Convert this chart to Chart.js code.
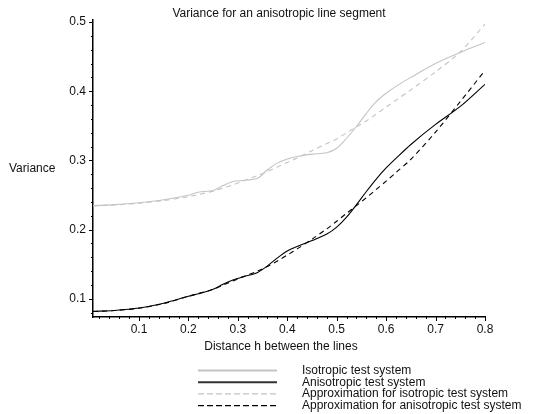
<!DOCTYPE html>
<html>
<head>
<meta charset="utf-8">
<script src="https://cdn.jsdelivr.net/npm/chart.js@4.4.0/dist/chart.umd.min.js"></script>
<style>
  html, body { margin: 0; padding: 0; background: #fff; }
</style>
</head>
<body>
<canvas id="chart" width="533" height="414"></canvas>
<script>
'use strict';

/* data */
const distances = [0.007, 0.05, 0.1, 0.15, 0.2, 0.22, 0.25, 0.27, 0.29, 0.31, 0.34, 0.36, 0.38, 0.4,
                   0.42, 0.45, 0.48, 0.5, 0.52, 0.54, 0.56, 0.58, 0.6, 0.62, 0.65, 0.7, 0.75, 0.8];

const isoTest = [0.2345, 0.236, 0.2388, 0.243, 0.2495, 0.254, 0.2565, 0.2635, 0.2695, 0.271, 0.274, 0.2865, 0.296, 0.302,
                 0.3055, 0.309, 0.311, 0.3175, 0.332, 0.349, 0.368, 0.385, 0.397, 0.407, 0.42, 0.44, 0.456, 0.4705];

const anisoTest = [0.0816, 0.083, 0.0865, 0.0935, 0.1035, 0.107, 0.1135, 0.121, 0.127, 0.1315, 0.138, 0.1475, 0.159, 0.169,
                   0.1755, 0.184, 0.1935, 0.2035, 0.218, 0.236, 0.255, 0.273, 0.289, 0.303, 0.323, 0.352, 0.378, 0.41];

const isoApprox = [0.234, 0.2355, 0.238, 0.242, 0.2475, 0.2505, 0.2555, 0.26, 0.2645, 0.27, 0.278, 0.284, 0.2905, 0.297,
                   0.3035, 0.314, 0.3245, 0.331, 0.34, 0.3485, 0.357, 0.367, 0.377, 0.387, 0.402, 0.428, 0.457, 0.497];

const anisoApprox = [0.0815, 0.0828, 0.0862, 0.093, 0.1035, 0.1075, 0.1135, 0.1195, 0.1255, 0.1315, 0.14, 0.1465, 0.1545, 0.163,
                     0.172, 0.186, 0.201, 0.212, 0.2235, 0.2345, 0.246, 0.258, 0.27, 0.2825, 0.3015, 0.341, 0.385, 0.43];

const xTickValues = [0.1, 0.2, 0.3, 0.4, 0.5, 0.6, 0.7, 0.8];
const yTickValues = [0.1, 0.2, 0.3, 0.4, 0.5];

const seriesLabels = [
    'Isotropic test system',
    'Anisotropic test system',
    'Approximation for isotropic test system',
    'Approximation for anisotropic test system',
];

/* styles */
const GREY = '#c4c4c4';
const BLACK = '#000';
const FAMILY = '"Liberation Sans", Arial, sans-serif';
const FONT = '12px ' + FAMILY;

function toPoints(values) {
    return distances.map((h, i) => ({ x: h, y: values[i] }));
}

function makeDataset(label, values, color, dash) {
    return {
        label,
        data: toPoints(values),
        borderColor: color,
        borderWidth: 1.1,
        borderDash: dash,
        pointRadius: 0,
        fill: false,
        tension: 0.3,
    };
}

/* axes ticks, titles and legend drawn by hand */
const decor = {
    id: 'decor',
    afterDraw(chart) {
        const { ctx, scales: { x, y }, chartArea: a } = chart;
        ctx.save();
        ctx.strokeStyle = BLACK;
        ctx.lineWidth = 1;

        // minor + major ticks
        for (let i = 1; i <= 40; i++) {
            const v = i * 0.02;
            const px = Math.round(x.getPixelForValue(v)) + 0.5;
            const len = i % 5 === 0 ? 4 : 2;
            ctx.beginPath(); ctx.moveTo(px, a.bottom); ctx.lineTo(px, a.bottom + len); ctx.stroke();
        }
        for (let i = 4; i <= 25; i++) {
            const v = i * 0.02;
            const py = Math.round(y.getPixelForValue(v)) + 0.5;
            const len = i % 5 === 0 ? 4 : 2;
            ctx.beginPath(); ctx.moveTo(a.left, py); ctx.lineTo(a.left - len, py); ctx.stroke();
        }

        ctx.fillStyle = '#111';
        ctx.font = FONT;
        ctx.textBaseline = 'middle';
        ctx.textAlign = 'center';
        ctx.fillText('Variance for an anisotropic line segment', 279, 14);
        ctx.fillText('Distance h between the lines', 281, 347);
        ctx.textAlign = 'left';
        ctx.fillText('Variance', 9, 169);

        // legend
        const styles = [
            { color: GREY, dash: [], width: 2 },
            { color: '#333', dash: [], width: 2 },
            { color: GREY, dash: [6, 3], width: 1.3 },
            { color: BLACK, dash: [6, 3], width: 1.3 },
        ];
        seriesLabels.forEach((label, i) => {
            const cy = 370.5 + i * 11.7;
            ctx.beginPath();
            ctx.strokeStyle = styles[i].color;
            ctx.lineWidth = styles[i].width;
            ctx.setLineDash(styles[i].dash);
            ctx.moveTo(198, cy); ctx.lineTo(277, cy);
            ctx.stroke();
            ctx.setLineDash([]);
            ctx.fillText(label, 302, cy);
        });
        ctx.restore();
    },
};

new Chart(document.getElementById('chart'), {
    type: 'line',
    data: {
        datasets: [
            makeDataset(seriesLabels[0], isoTest, GREY, []),
            makeDataset(seriesLabels[1], anisoTest, BLACK, []),
            makeDataset(seriesLabels[2], isoApprox, GREY, [5, 4]),
            makeDataset(seriesLabels[3], anisoApprox, BLACK, [5, 4]),
        ],
    },
    options: {
        responsive: false,
        animation: false,
        devicePixelRatio: 1,
        layout: { padding: { top: 20, right: 48, left: 0, bottom: 0 } },
        plugins: {
            legend: { display: false },
            title: { display: false },
            tooltip: { enabled: false },
        },
        scales: {
            x: {
                type: 'linear',
                min: 0.007,
                max: 0.8,
                afterBuildTicks: s => { s.ticks = xTickValues.map(v => ({ value: v })); },
                afterFit: s => { s.height = 414 - 317; },
                grid: { display: false, drawTicks: false },
                border: { display: true, color: BLACK, width: 1.5 },
                ticks: {
                    color: '#111',
                    font: { family: FAMILY, size: 12 },
                    padding: 5,
                    maxRotation: 0,
                    autoSkip: false,
                    callback: v => v.toFixed(1),
                },
            },
            y: {
                type: 'linear',
                min: 0.0735,
                max: 0.503,
                afterBuildTicks: s => { s.ticks = yTickValues.map(v => ({ value: v })); },
                afterFit: s => { s.width = 93; },
                grid: { display: false, drawTicks: false },
                border: { display: true, color: BLACK, width: 1.5 },
                ticks: {
                    color: '#111',
                    font: { family: FAMILY, size: 12 },
                    padding: 7,
                    autoSkip: false,
                    callback: v => v.toFixed(1),
                },
            },
        },
    },
    plugins: [decor],
});
</script>
</body>
</html>
